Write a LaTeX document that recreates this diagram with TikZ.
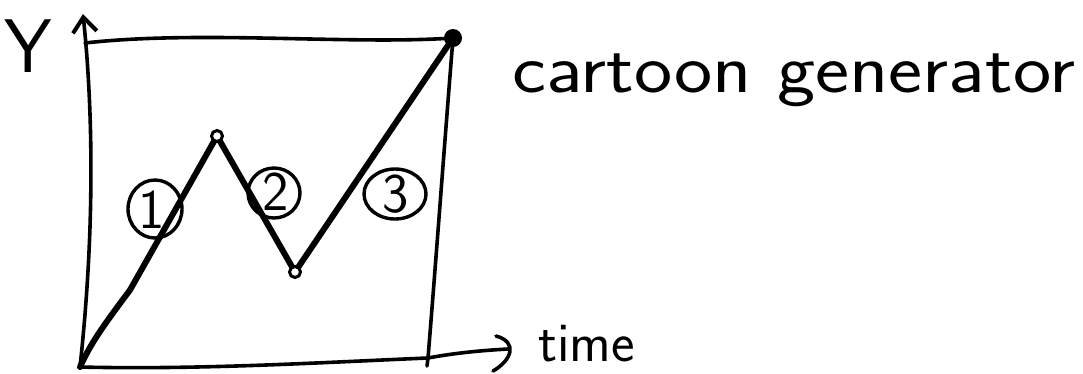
\documentclass[tikz,border=0pt]{standalone}
\usetikzlibrary{arrows.meta}
\begin{document}
\begin{tikzpicture}[x=1pt,y=-1pt,
  ink/.style={line width=3.6pt,line cap=round,line join=round},
  thick ink/.style={line width=6pt,line cap=round,line join=round},
  ring/.style={line width=3.4pt},
  hand/.style={font=\sffamily,inner sep=0pt,anchor=base west},
  numlab/.style={font=\sffamily\fontsize{56}{56}\selectfont,inner sep=0pt}]
\useasboundingbox (0,0) rectangle (1083,373);
% corners
\coordinate (O) at (80,367);
\coordinate (YT) at (83,14);
\coordinate (TL) at (85,43);
\coordinate (TR) at (453,38);
\coordinate (BR) at (428,358);
\coordinate (XT) at (508,349);
\coordinate (P) at (217,136);
\coordinate (V) at (295,272);
% axes and frame
\draw[ink,-{Straight Barb[length=15pt,width=24pt,line width=4pt]}] (O) .. controls (96,220) and (92,100) .. (YT);
\draw[ink] (TL) .. controls (200,30) and (350,45) .. (TR);
\draw[ink] (TR) .. controls (444,150) and (436,260) .. (BR) -- (427,366);
\draw[ink] (O) .. controls (200,370) and (330,362) .. (BR);
\draw[ink] (BR) .. controls (460,352) and (490,350) .. (XT);
\draw[ink] (496,336) .. controls (518,342) and (512,360) .. (493,371);
% zigzag
\draw[thick ink] (O) .. controls (90,345) and (100,330) .. (130,290) -- (P) -- (V) -- (TR);
\draw[line width=3pt,fill=white] (P) circle[radius=5.5pt];
\draw[line width=3pt,fill=white] (V) circle[radius=5.5pt];
\fill (TR) circle[radius=9pt];
% numbered circles
\node[numlab] (n1) at (152,210) {1};
\draw[ring] (155,209) ellipse[x radius=27pt,y radius=29pt];
\node[numlab] (n2) at (276,192) {2};
\draw[ring] (274,193) ellipse[x radius=26pt,y radius=25pt];
\node[numlab] (n3) at (396,194) {3};
\draw[ring] (395,194) ellipse[x radius=31pt,y radius=25pt];
% labels
\node[font=\sffamily\fontsize{76}{76}\selectfont,inner sep=0pt] (ylab) at (28,46) {Y};
\node[hand,font=\sffamily\fontsize{70}{70}\selectfont,xscale=1.16] (title) at (512,92) {cartoon generator};
\node[hand,font=\sffamily\fontsize{56}{56}\selectfont] (time) at (538,361) {time};
\end{tikzpicture}
\end{document}
